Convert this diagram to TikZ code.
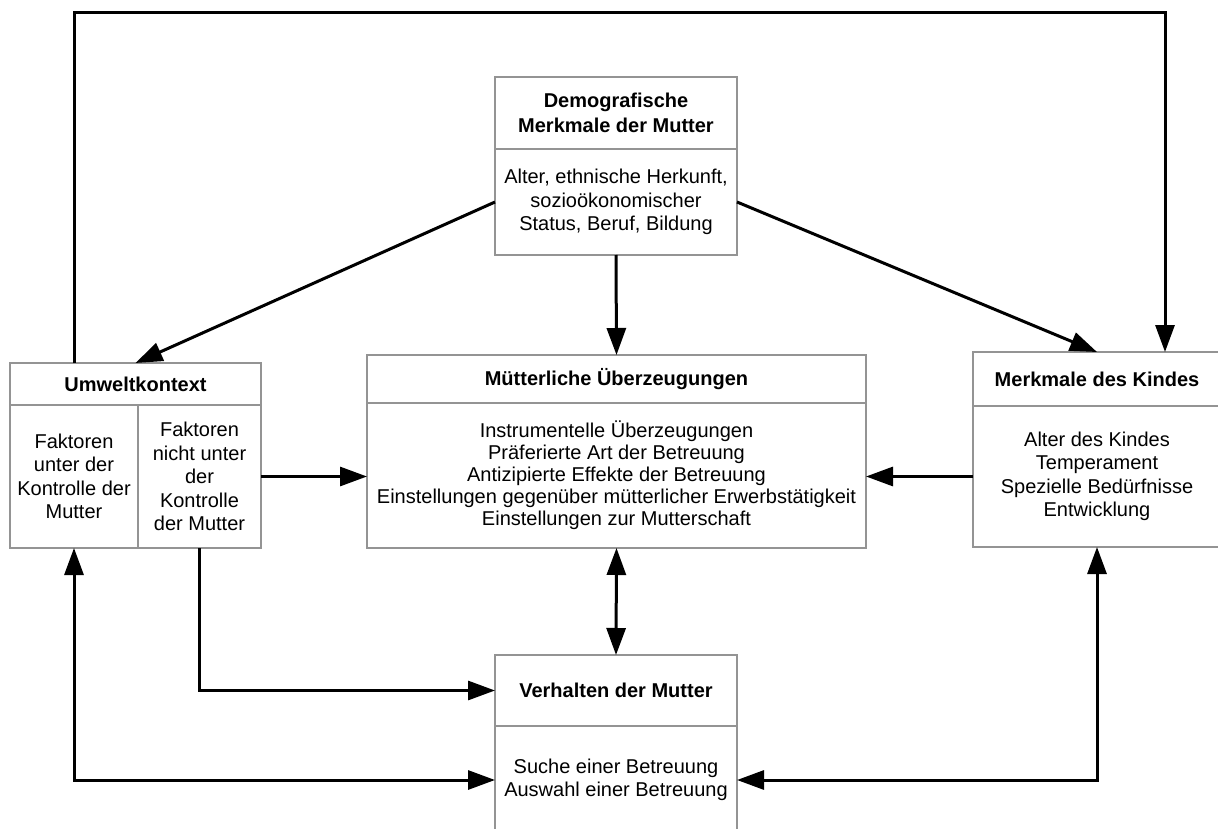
\documentclass[tikz,border=0pt]{standalone}
\usepackage{fontspec}
\setmainfont{Liberation Sans}
\usetikzlibrary{arrows.meta}

\begin{document}
\begin{tikzpicture}[x=1pt,y=-1pt]
\tikzstyle{every node}+=[inner sep=0pt, font=\fontsize{20}{23.5}\selectfont]
\tikzstyle{box}=[draw=black!42, line width=1.4pt, outer sep=0pt, anchor=north west, align=center]
\tikzstyle{head}=[box, font=\fontsize{20}{25}\selectfont\bfseries]
\tikzstyle{arr}=[line width=3pt, -{Triangle[length=27pt,width=19pt]}]
\tikzstyle{darr}=[line width=3pt, {Triangle[length=27pt,width=19pt]}-{Triangle[length=27pt,width=19pt]}]
\path [fill=white] (0,0) rectangle (1218,829);
\useasboundingbox (0,0) rectangle (1218,829);

\node [head, minimum width=242pt, minimum height=72pt] (demoHead) at (495,77) {Demografische\\Merkmale der Mutter};
\node [box, minimum width=242pt, minimum height=106pt] (demoBody) at (demoHead.south west) {Alter, ethnische Herkunft,\\sozioökonomischer\\Status, Beruf, Bildung};

\node [head, minimum width=251pt, minimum height=42pt] (umweltHead) at (10,363) {Umweltkontext};
\node [box, minimum width=128pt, minimum height=143pt] (umweltLeft) at (umweltHead.south west) {Faktoren\\unter der\\Kontrolle der\\Mutter};
\node [box, minimum width=123pt, minimum height=143pt] (umweltRight) at (umweltLeft.north east) {Faktoren\\nicht unter\\der\\Kontrolle\\der Mutter};

\node [head, minimum width=499pt, minimum height=48pt] (mbeliefHead) at (367,355) {Mütterliche Überzeugungen};
\node [box, minimum width=499pt, minimum height=145pt, font=\fontsize{20}{22}\selectfont] (mbeliefBody) at (mbeliefHead.south west) {Instrumentelle Überzeugungen\\Präferierte Art der Betreuung\\Antizipierte Effekte der Betreuung\\Einstellungen gegenüber mütterlicher Erwerbstätigkeit\\Einstellungen zur Mutterschaft};

\node [head, minimum width=248pt, minimum height=54pt] (kindHead) at (973,352) {Merkmale des Kindes};
\node [box, minimum width=248pt, minimum height=141pt] (kindBody) at (kindHead.south west) {Alter des Kindes\\Temperament\\Spezielle Bedürfnisse\\Entwicklung};

\node [head, minimum width=242pt, minimum height=71pt] (verhaltenHead) at (495,655) {Verhalten der Mutter};
\node [box, minimum width=242pt, minimum height=108pt] (verhaltenBody) at (verhaltenHead.south west) {Suche einer Betreuung\\Auswahl einer Betreuung};

\coordinate (loopL) at (74,13);
\coordinate (loopR) at (1165,13);
\draw [arr] (loopL |- umweltHead.north) -- (loopL) -- (loopR) -- (loopR |- kindHead.north);
\draw [arr] (demoBody.west) -- (umweltHead.north);
\draw [arr] (demoBody.south) -- (mbeliefHead.north);
\draw [arr] (demoBody.east) -- (kindHead.north);
\draw [arr] (umweltRight.east) -- (umweltRight.east -| mbeliefBody.west);
\draw [arr] (kindBody.west) -- (kindBody.west -| mbeliefBody.east);
\draw [darr] (mbeliefBody.south) -- (verhaltenHead.north);
\draw [arr] (umweltRight.south) |- (verhaltenHead.west);
\draw [darr] (umweltLeft.south) |- (verhaltenBody.west);
\draw [darr] (kindBody.south) |- (verhaltenBody.east);
\end{tikzpicture}
\end{document}
